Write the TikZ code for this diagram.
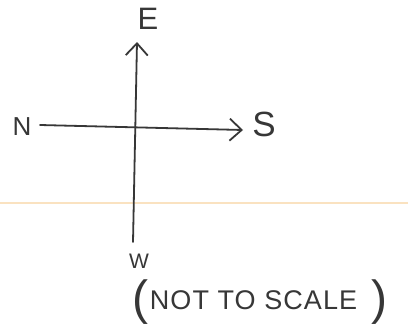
\documentclass[tikz,border=0pt]{standalone}
\usepackage{fontspec}
\setmainfont{Liberation Sans}
\usetikzlibrary{arrows.meta}
\definecolor{pencil}{RGB}{55,55,55}
\definecolor{foldline}{RGB}{250,226,192}
\tikzset{
  axisline/.style={draw=pencil, line width=1.8pt, line cap=round},
  compass/.style={text=pencil, inner sep=1pt},
  barb/.style={-{Straight Barb[length=12pt,width=22pt,line width=1.8pt]}}
}
\begin{document}
\begin{tikzpicture}[x=1pt,y=-1pt]
\useasboundingbox[fill=white] (0,0) rectangle (408,332);
% faint line across the paper
\draw[foldline, line width=2pt] (0,203) -- (408,203);
% labels
\node[compass, font=\fontsize{31}{31}\selectfont] (E) at (148,19) {E};
\node[compass, font=\fontsize{26}{26}\selectfont] (N) at (22,127) {N};
\node[compass, font=\fontsize{35}{35}\selectfont] (S) at (264,124) {S};
\node[compass, font=\fontsize{21}{21}\selectfont] (W) at (139,261) {W};
% connector end points
\coordinate (Nend) at (40,125);
\coordinate (Send) at (243,130);
\coordinate (Wend) at (133,242);
\coordinate (Etip) at (137,42);
% axes
\draw[axisline, barb] (Nend) -- (Send);
\draw[axisline, barb] (Wend) -- (Etip);
\node[compass, font=\fontsize{27}{27}\selectfont\addfontfeatures{LetterSpace=4}] (note) at (260,302)
  {{\fontsize{48}{48}\selectfont(}\hspace{1pt}\raisebox{5pt}{NOT TO SCALE}\hspace{14pt}{\fontsize{48}{48}\selectfont)}};
\end{tikzpicture}
\end{document}
